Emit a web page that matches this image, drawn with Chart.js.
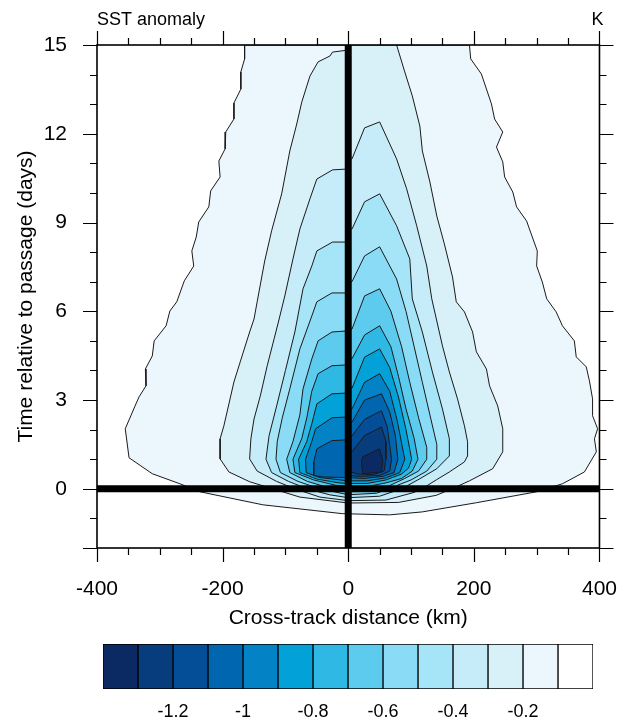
<!DOCTYPE html>
<html><head><meta charset="utf-8">
<script src="https://cdn.jsdelivr.net/npm/chart.js@4/dist/chart.umd.min.js"></script>
<style>
html,body{margin:0;padding:0;background:#fff;}
#wrap{position:relative;width:632px;height:718px;overflow:hidden;}
#main{position:absolute;left:0;top:0;}
#cbar{position:absolute;left:0;top:630px;}
</style></head><body>
<div id="wrap"><canvas id="main" width="632" height="640"></canvas><canvas id="cbar" width="632" height="88"></canvas></div>
<script>
const FONT = "'Liberation Sans', Arial, Helvetica, sans-serif";

// ---- axes ----
const xRange = [-400, 400];
const yRange = [-2, 15];
const xTickLabels = [-400, -200, 0, 200, 400];
const xMinorTicks = [-350,-300,-250,-150,-100,-50,50,100,150,250,300,350];
const yTickLabels = [0, 3, 6, 9, 12, 15];
const yMajorTicks = [-2, 0, 3, 6, 9, 12, 15];
const yMinorTicks = [-1,1,2,4,5,7,8,10,11,13,14];

// ---- contour levels (K) and colours (colour bar, low to high) ----
const levels = [-0.1,-0.2,-0.3,-0.4,-0.5,-0.6,-0.7,-0.8,-0.9,-1.0,-1.1,-1.2,-1.3];
const cbColors = ['#0b2a63','#083d7d','#044e97','#0166b0','#0383c6','#02a2d8','#2eb8e3',
                  '#5ccbee','#8adcf6','#a6e4f7','#c5ecf8','#d8f0f8','#ebf7fc','#ffffff'];
const cbTickValues = [-1.2,-1.0,-0.8,-0.6,-0.4,-0.2];
const cbTickLabels = ['-1.2','-1','-0.8','-0.6','-0.4','-0.2'];

// ---- contour outlines: [cross-track km, days] ----
const c01 = [[-165,15],[-165,14.53],[-171,14.09],[-171,13.51],[-182,13.04],[-182,12.5],[-195,12.06],[-196,11.49],[-206,11.08],[-204,10.54],[-219,10.07],[-222,9.53],[-238,9.02],[-242,8.51],[-249,8.04],[-246,7.53],[-261,7.03],[-273,6.32],[-284,6.01],[-290,5.51],[-309,5.0],[-312,4.49],[-323,4.05],[-322,3.48],[-333,3.11],[-338,2.87],[-355,2.03],[-349,1.05],[-312,0.51],[-268,0.17],[-236,-0.1],[-136,-0.54],[-9,-0.84],[66,-0.88],[118,-0.78],[204,-0.47],[300,-0.1],[341,0.17],[376,0.57],[395,1.25],[392,1.69],[397,2.03],[389,2.47],[389,3.04],[384,3.65],[379,4.12],[363,4.46],[360,5.0],[341,5.51],[331,5.98],[316,6.42],[309,6.99],[300,7.53],[301,8.04],[284,9.05],[268,9.53],[262,10.03],[249,10.54],[246,11.05],[236,11.55],[246,12.06],[233,12.5],[228,13.01],[212,14.02],[195,14.53],[193,15]];
const c02 = [[0,14.83],[-25,14.76],[-29,14.63],[-48,14.43],[-61,13.95],[-74,13.07],[-82,12.33],[-93,11.42],[-106,9.97],[-122,8.72],[-133,7.7],[-145,6.32],[-150,5.74],[-157,5.3],[-172,4.29],[-182,3.61],[-198,2.13],[-204,1.69],[-204,1.01],[-190,0.57],[-157,0.24],[-120,0],[-77,-0.28],[0,-0.48],[80,-0.46],[140,-0.22],[165,0],[193,0.27],[230,0.68],[246,1.25],[246,2.03],[238,2.8],[225,3.48],[220,4.05],[204,4.63],[198,5.3],[185,5.98],[172,6.32],[166,7.16],[153,8.28],[141,9.22],[130,10.37],[118,11.42],[114,12.26],[102,13.28],[90,14.09],[77,15],[0,15]];
const c03 = [[0,10.81],[-25,10.78],[-50,10.47],[-61,9.8],[-77,8.78],[-88,7.77],[-101,6.52],[-110,5.74],[-118,5.07],[-129,4.16],[-140,3.14],[-150,2.36],[-155,1.69],[-157,1.01],[-145,0.6],[-114,0.25],[-85,0],[-45,-0.28],[0,-0.4],[60,-0.38],[105,-0.12],[125,0.1],[140,0.3],[161,0.57],[185,0.91],[190,1.11],[190,1.59],[185,2.13],[174,3.04],[161,3.95],[150,4.83],[133,6.42],[125,7.53],[109,8.89],[93,10.14],[77,11.15],[50,12.4],[26,12.2],[6,11.15],[0,11.15]];
const c04 = [[0,8.34],[-25,8.34],[-50,8.04],[-58,7.53],[-72,6.76],[-85,5.3],[-100,4.0],[-114,2.8],[-126,1.8],[-131,1.0],[-122,0.55],[-95,0.25],[-65,0],[-30,-0.2],[0,-0.3],[50,-0.25],[85,0.0],[114,0.34],[141,0.68],[161,1.11],[161,1.69],[150,2.7],[134,3.95],[118,5.3],[102,6.42],[98,7.77],[77,8.89],[50,9.97],[26,9.7],[6,8.78],[0,8.78]];
const c05 = [[0,6.62],[-26,6.62],[-50,6.32],[-58,5.84],[-77,4.73],[-93,3.38],[-105,2.4],[-113,1.6],[-115,1.0],[-108,0.55],[-80,0.25],[-45,0],[0,-0.2],[45,-0.15],[70,0.05],[100,0.3],[125,0.6],[141,1.0],[141,1.5],[130,2.5],[118,3.6],[105,4.8],[92,6.0],[77,7.09],[50,8.18],[26,7.87],[6,7.0],[0,7.0]];
const c06 = [[0,5.34],[-26,5.3],[-48,5.0],[-58,4.39],[-72,3.38],[-77,2.5],[-88,1.6],[-98,1.0],[-93,0.55],[-65,0.25],[-25,0],[0,-0.1],[40,-0.08],[65,0.1],[90,0.35],[112,0.6],[125,1.0],[125,1.4],[112,2.4],[98,3.6],[85,4.8],[68,6.0],[50,6.76],[26,6.52],[6,5.4],[0,5.4]];
const c07 = [[0,4.19],[-26,4.16],[-48,3.89],[-58,3.3],[-66,2.4],[-74,1.7],[-88,1.0],[-85,0.55],[-55,0.3],[-20,0.12],[0,0.08],[30,0.08],[60,0.2],[85,0.35],[102,0.6],[111,1.0],[105,1.7],[92,2.7],[80,3.8],[68,4.8],[50,5.51],[26,5.2],[6,4.4],[0,4.4]];
const c08 = [[0,3.24],[-26,3.21],[-50,2.87],[-58,2.2],[-66,1.6],[-79,1.0],[-77,0.55],[-50,0.33],[-15,0.2],[0,0.18],[30,0.18],[60,0.3],[85,0.5],[96,0.7],[101,1.0],[92,2.0],[80,3.1],[66,4.1],[50,4.73],[26,4.45],[6,3.4],[0,3.4]];
const c09 = [[0,2.43],[-26,2.4],[-52,2.03],[-58,1.6],[-68,1.0],[-67,0.55],[-45,0.38],[0,0.27],[30,0.27],[60,0.37],[82,0.55],[90,1.0],[78,2.3],[66,3.3],[50,3.89],[26,3.6],[6,2.7],[0,2.7]];
const c10 = [[0,1.66],[-26,1.63],[-50,1.35],[-55,0.9],[-55,0.45],[-40,0.4],[0,0.38],[25,0.35],[55,0.42],[73,0.55],[79,1.0],[75,1.8],[66,2.6],[53,3.21],[26,3.0],[6,2.26],[0,2.26]];
const c11 = [[0,1.79],[6,1.79],[26,2.35],[53,2.64],[62,2.1],[69,1.0],[66,0.6],[50,0.45],[20,0.42],[0,0.45]];
const c12 = [[0,1.25],[6,1.25],[26,1.8],[53,2.09],[60,1.6],[60,1.0],[57,0.6],[40,0.48],[15,0.5],[0,0.6]];
const c13 = [[21,0.91],[23,1.08],[50,1.35],[55,0.95],[53,0.57],[23,0.51]];
const contours = [c01,c02,c03,c04,c05,c06,c07,c08,c09,c10,c11,c12,c13];

// ---- build datasets ----
const toXY = pts => pts.map(p => ({x: p[0], y: p[1]}));
const polyDatasets = contours.map((pts, i) => ({
  label: 'lt ' + levels[i],
  data: toXY(pts.concat([pts[0]])),
  showLine: true, fill: 'shape',
  backgroundColor: cbColors[12 - i],
  borderColor: '#1a1a1a', borderWidth: 1,
  pointRadius: 0, pointHoverRadius: 0, tension: 0,
  order: 100 - i, clip: 0
}));
const trackLines = [
  xRange.map(x => ({x: x, y: 0})),
  yRange.map(y => ({x: 0, y: y}))
].map(d => ({
  data: d, showLine: true, fill: false, borderColor: '#000', borderWidth: 7,
  borderCapStyle: 'butt', pointRadius: 0, pointHoverRadius: 0, order: 0, clip: 0
}));

const framePlugin = {
  id: 'frame',
  afterDatasetsDraw(chart) {
    const {ctx, chartArea: a, scales: {x, y}} = chart;
    ctx.save();
    ctx.strokeStyle = '#000';
    ctx.lineWidth = 1.2;
    ctx.beginPath();
    const tick = (vals, len) => {
      vals.forEach(v => {
        const px = Math.round(x.getPixelForValue(v)) + 0.5;
        ctx.moveTo(px, a.bottom); ctx.lineTo(px, a.bottom + len);
        ctx.moveTo(px, a.top); ctx.lineTo(px, a.top - len);
      });
    };
    const ytick = (vals, len) => {
      vals.forEach(v => {
        const py = Math.round(y.getPixelForValue(v)) + 0.5;
        ctx.moveTo(a.left, py); ctx.lineTo(a.left - len, py);
        ctx.moveTo(a.right, py); ctx.lineTo(a.right + len, py);
      });
    };
    tick(xTickLabels, 14); tick(xMinorTicks, 7);
    ytick(yMajorTicks, 14); ytick(yMinorTicks, 7);
    ctx.stroke();
    ctx.lineWidth = 1.6;
    ctx.strokeRect(a.left, a.top, a.right - a.left, a.bottom - a.top);
    ctx.fillStyle = '#000';
    ctx.font = '18px ' + FONT;
    ctx.textBaseline = 'alphabetic';
    ctx.textAlign = 'left';
    ctx.fillText('SST anomaly', a.left, 25);
    ctx.textAlign = 'right';
    ctx.fillText('K', a.right + 4, 25);
    ctx.restore();
  }
};

new Chart(document.getElementById('main'), {
  type: 'scatter',
  data: {datasets: polyDatasets.concat(trackLines)},
  options: {
    responsive: false, animation: false, devicePixelRatio: 1,
    layout: {padding: {left: 0, right: 32, top: 45, bottom: 5}},
    plugins: {legend: {display: false}, tooltip: {enabled: false}},
    scales: {
      x: {
        type: 'linear', min: xRange[0], max: xRange[1],
        afterBuildTicks: s => { s.ticks = xTickLabels.map(v => ({value: v})); },
        afterFit: s => { s.height = 87; },
        ticks: {font: {size: 21, family: FONT}, color: '#000', padding: 15, maxRotation: 0, autoSkip: false,
                callback: v => String(v)},
        grid: {display: true, drawOnChartArea: false, drawTicks: true, tickLength: 14, tickColor: 'rgba(0,0,0,0)'},
        border: {display: false},
        title: {display: true, text: 'Cross-track distance (km)', color: '#000',
                font: {size: 21, family: FONT}, padding: {top: 4, bottom: 4}}
      },
      y: {
        type: 'linear', min: yRange[0], max: yRange[1],
        afterBuildTicks: s => { s.ticks = yTickLabels.map(v => ({value: v})); },
        afterFit: s => { s.width = 97; },
        ticks: {font: {size: 21, family: FONT}, color: '#000', padding: 16, autoSkip: false,
                callback: v => String(v)},
        grid: {display: true, drawOnChartArea: false, drawTicks: true, tickLength: 14, tickColor: 'rgba(0,0,0,0)'},
        border: {display: false},
        title: {display: true, text: 'Time relative to passage (days)', color: '#000',
                font: {size: 21, family: FONT}, padding: {top: 14, bottom: 4}}
      }
    }
  },
  plugins: [framePlugin]
});

// ---- colour bar ----
const cbStep = levels[0] - levels[1];
const asc = levels.slice().reverse();
const cbDatasets = cbColors.map((c, i) => {
  const lo = i === 0 ? asc[0] - cbStep : asc[i - 1];
  const hi = i === asc.length ? asc[asc.length - 1] + cbStep : asc[i];
  return {data: [[lo, hi]], backgroundColor: c, borderColor: '#000', borderWidth: 1,
          borderSkipped: false, barPercentage: 1, categoryPercentage: 1, grouped: false};
});
new Chart(document.getElementById('cbar'), {
  type: 'bar',
  data: {labels: [''], datasets: cbDatasets},
  options: {
    indexAxis: 'y', responsive: false, animation: false, devicePixelRatio: 1,
    layout: {padding: {left: 103, right: 39, top: 14, bottom: 0}},
    plugins: {legend: {display: false}, tooltip: {enabled: false}},
    scales: {
      x: {
        type: 'linear', min: asc[0] - cbStep, max: asc[asc.length - 1] + cbStep,
        afterBuildTicks: s => { s.ticks = cbTickValues.map(v => ({value: v})); },
        afterFit: s => { s.height = 29; },
        ticks: {font: {size: 18, family: FONT}, color: '#000', padding: 12, maxRotation: 0, autoSkip: false,
                callback: (v, i) => cbTickLabels[i]},
        grid: {display: false, drawTicks: false},
        border: {display: false}
      },
      y: {display: false}
    }
  }
});
</script></body></html>
